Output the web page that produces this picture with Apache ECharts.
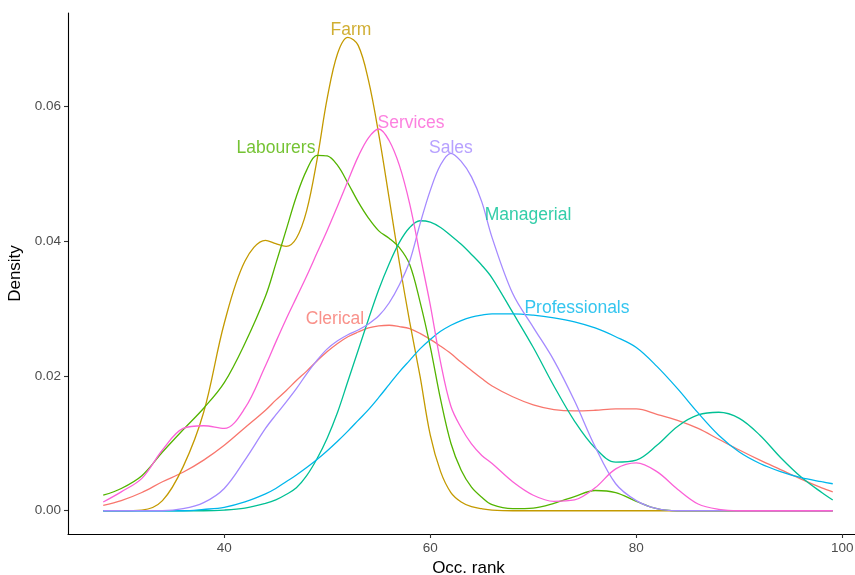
<!DOCTYPE html>
<html><head><meta charset="utf-8">
<script src="https://cdn.jsdelivr.net/npm/echarts@6/dist/echarts.min.js"></script>
<style>html,body{margin:0;padding:0;background:#fff}#c{width:855px;height:575px}</style>
</head><body><div id="c"></div>
<script>
// shared x grid (occupational rank); finer where the peaks are
const xs = [28.25,30,32,34,36,38,40,42,
  44,45,46,47,48,49,50,51,52,53,54,55,56,57,58,59,60,61,62,63,64,65,66,
  68,70,72,74,76,78,80,82,84,86,88,90,92,94,96,98,99.07];
const groups = ['Clerical','Farm','Labourers','Managerial','Professionals','Sales','Services'];
const clerical = [0.0008,0.0015,0.0027,0.0043,0.0057,0.0075,0.0097,0.0123,
  0.0149,0.0164,0.0178,0.0193,0.0207,0.0222,0.0236,0.0248,0.0258,0.0265,0.0271,0.0274,0.0275,0.0273,0.0270,0.0263,0.0254,0.0244,0.0233,0.0220,0.0208,0.0196,0.0185,
  0.0169,0.0157,0.0150,0.0148,0.0149,0.0151,0.0151,0.0143,0.0134,0.0122,0.0106,0.0090,0.0075,0.0061,0.0047,0.0034,0.0028];
const farm = [0,0,0.0001,0.0015,0.0065,0.0146,0.0278,0.0370,
  0.0401,0.0396,0.0392,0.0404,0.0445,0.0520,0.0612,0.0678,0.0702,0.0690,0.0638,0.0558,0.0464,0.0368,0.0280,0.0200,0.0112,0.0058,0.0027,0.0013,0.0006,0.0003,0.0001,
  0,0,0,0,0,0,0,0,0,0,0,0,0,0,0,0,0];
const labourers = [0.0023,0.0033,0.0052,0.0087,0.0120,0.0152,0.0190,0.0248,
  0.0318,0.0366,0.0416,0.0466,0.0505,0.0527,0.0526,0.0512,0.0486,0.0458,0.0434,0.0415,0.0404,0.0390,0.0365,0.0310,0.0243,0.0165,0.0100,0.0060,0.0035,0.0020,0.0009,
  0.0003,0.0004,0.0011,0.0021,0.0030,0.0027,0.0014,0.0003,0,0,0,0,0,0,0,0,0];
const managerial = [0,0,0,0,0,0,0.0001,0.0004,
  0.0011,0.0016,0.0024,0.0034,0.0052,0.0077,0.0108,0.0146,0.0192,0.0238,0.0284,0.0328,0.0366,0.0398,0.0420,0.0430,0.0428,0.0420,0.0408,0.0395,0.0380,0.0364,0.0345,
  0.0294,0.0242,0.0185,0.0133,0.0093,0.0072,0.0075,0.0097,0.0125,0.0142,0.0146,0.0137,0.0112,0.0079,0.0050,0.0027,0.0016];
const professionals = [0,0,0,0,0,0.0002,0.0005,0.0013,
  0.0025,0.0033,0.0043,0.0053,0.0064,0.0076,0.0089,0.0103,0.0118,0.0134,0.0150,0.0168,0.0187,0.0206,0.0223,0.0240,0.0254,0.0266,0.0275,0.0282,0.0287,0.0290,0.0292,
  0.0292,0.0290,0.0286,0.0280,0.0271,0.0258,0.0242,0.0214,0.0181,0.0145,0.0112,0.0087,0.0070,0.0058,0.0049,0.0043,0.0040];
const sales = [0,0,0,0,0.0003,0.0012,0.0033,0.0075,
  0.0122,0.0142,0.0161,0.0181,0.0203,0.0223,0.0240,0.0252,0.0261,0.0268,0.0277,0.0289,0.0308,0.0335,0.0370,0.0425,0.0475,0.0513,0.0530,0.0518,0.0495,0.0458,0.0405,
  0.0322,0.0272,0.0223,0.0163,0.0095,0.0040,0.0015,0.0003,0,0,0,0,0,0,0,0,0];
const services = [0.0013,0.0028,0.0048,0.0090,0.0122,0.0126,0.0122,0.0152,
  0.0215,0.0250,0.0284,0.0316,0.0348,0.0382,0.0416,0.0452,0.0489,0.0525,0.0553,0.0566,0.0549,0.0512,0.0455,0.0380,0.0305,0.0220,0.0155,0.0123,0.0099,0.0082,0.0070,
  0.0043,0.0023,0.0014,0.0016,0.0034,0.0062,0.0071,0.0058,0.0032,0.0010,0.0002,0,0,0,0,0,0];
// direct label anchors (data coordinates)
const labelX = [50.75, 52.3, 45.02, 69.49, 74.24, 62.0, 58.13];
const labelY = [0.0284, 0.0713, 0.0538, 0.0438, 0.0301, 0.0538, 0.0575];
const xTicks = [40, 60, 80, 100];
const yTicks = [0, 0.02, 0.04, 0.06];

const values = [clerical, farm, labourers, managerial, professionals, sales, services];
const colors = ['#F8766D','#C49A00','#53B400','#00C094','#00B6EB','#A58AFF','#FB61D7'];
const FONT = 'Liberation Sans, Arial, Helvetica, sans-serif';

const chart = echarts.init(document.getElementById('c'), null, {renderer: 'canvas'});
const series = groups.map((g, k) => ({
  name: g, type: 'line', showSymbol: false, symbol: 'none',
  smooth: 0.35,
  data: xs.map((x, i) => [x, values[k][i]]),
  lineStyle: {color: colors[k], width: 1.3},
  itemStyle: {color: colors[k]},
  z: 2
}));
series.push({
  type: 'scatter', symbolSize: 0, itemStyle: {color: 'rgba(0,0,0,0)'}, z: 5, silent: true,
  data: groups.map((g, k) => ({
    value: [labelX[k], labelY[k]], name: g,
    label: {show: true, position: 'inside', formatter: g, color: colors[k],
            fontSize: 17.5, fontFamily: FONT}
  }))
});

chart.setOption({
  animation: false,
  backgroundColor: '#fff',
  grid: {left: 68, right: 0, top: 13, bottom: 41, containLabel: false, outerBoundsMode: 'none'},
  xAxis: {
    type: 'value', min: 24.83, max: 101.23,
    splitLine: {show: false},
    axisLine: {show: true, onZero: false, lineStyle: {color: '#000', width: 1.1}},
    axisTick: {show: true, length: 4, lineStyle: {color: '#333', width: 1.1}, customValues: xTicks},
    axisLabel: {color: '#4D4D4D', fontSize: 13.5, fontFamily: FONT, margin: 7, customValues: xTicks},
    name: 'Occ. rank', nameLocation: 'middle', nameGap: 25,
    nameTextStyle: {color: '#000', fontSize: 17, fontFamily: FONT, padding: [0, 0, 0, 14]}
  },
  yAxis: {
    type: 'value', min: -0.00345, max: 0.0738,
    splitLine: {show: false},
    axisLine: {show: true, onZero: false, lineStyle: {color: '#000', width: 1.1}},
    axisTick: {show: true, length: 4, lineStyle: {color: '#333', width: 1.1}, customValues: yTicks},
    axisLabel: {color: '#4D4D4D', fontSize: 13.5, fontFamily: FONT, margin: 7, customValues: yTicks,
                formatter: v => v.toFixed(2)},
    name: 'Density', nameLocation: 'middle', nameGap: 31, nameRotate: 90,
    nameTextStyle: {color: '#000', fontSize: 17, fontFamily: FONT}
  },
  series: series
});
</script></body></html>
